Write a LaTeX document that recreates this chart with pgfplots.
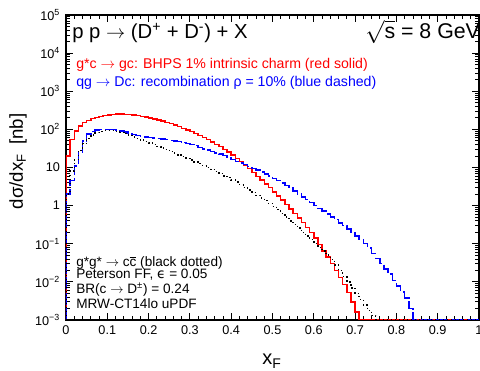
\documentclass[border=0pt]{standalone}
\usepackage{fontspec}
\setmainfont{Liberation Sans}
\newfontfamily\dejavu{DejaVu Sans}
\usepackage{pgfplots}
\usepackage{pgfplotstable}
\pgfplotsset{compat=1.18}

\pgfplotstableread{
x y
0 0.001
0 20
0.01 55
0.02 90
0.03 122
0.04 150
0.05 172
0.06 192
0.07 207
0.08 220
0.09 231
0.10 240
0.11 247
0.12 251
0.13 251
0.14 248
0.15 243
0.16 237
0.17 229
0.18 221
0.19 211
0.20 200
0.21 188
0.22 177
0.23 165
0.24 153
0.25 141
0.26 129
0.27 118
0.28 107
0.29 97
0.30 87
0.31 78
0.32 69
0.33 61
0.34 54
0.35 47
0.36 40.5
0.37 35
0.38 30
0.39 25.5
0.40 21.5
0.41 17.5
0.42 14.3
0.43 11.6
0.44 9.3
0.45 7.4
0.46 5.9
0.47 4.7
0.48 3.7
0.49 2.95
0.50 2.3
0.51 1.8
0.52 1.4
0.53 1.08
0.54 0.82
0.55 0.62
0.56 0.47
0.57 0.36
0.58 0.27
0.59 0.2
0.60 0.14
0.61 0.095
0.62 0.065
0.63 0.045
0.64 0.03
0.65 0.02
0.66 0.013
0.67 0.0085
0.68 0.0052
0.69 0.003
0.70 0.0016
0.71 0.001
1.00 0.001
}\redtab

\pgfplotstableread{
x y
0 0.001
0 2
0.01 4.5
0.02 11
0.03 25
0.04 50
0.05 75
0.06 88
0.07 95
0.08 98
0.09 100
0.10 100
0.11 98
0.12 95
0.13 91
0.14 85
0.15 79
0.16 74
0.17 69
0.18 65
0.19 63
0.20 61
0.21 59
0.22 57.5
0.23 55.6
0.24 53.7
0.25 51.9
0.26 50
0.27 47.9
0.28 45.7
0.29 43.2
0.30 40.7
0.31 37.2
0.32 33.9
0.33 30.9
0.34 28.5
0.35 26.3
0.36 24.3
0.37 22.4
0.38 20.4
0.39 18.2
0.40 16.2
0.41 14.6
0.42 13.2
0.43 11.9
0.44 10.7
0.45 9.5
0.46 8.5
0.47 7.6
0.48 6.8
0.49 6.0
0.50 5.1
0.51 4.5
0.52 3.9
0.53 3.4
0.54 2.9
0.55 2.4
0.56 2.0
0.57 1.7
0.58 1.45
0.59 1.2
0.60 1.02
0.61 0.85
0.62 0.72
0.63 0.6
0.64 0.51
0.65 0.43
0.66 0.35
0.67 0.3
0.68 0.245
0.69 0.2
0.70 0.16
0.71 0.13
0.72 0.1
0.73 0.078
0.74 0.056
0.75 0.041
0.76 0.03
0.77 0.022
0.78 0.016
0.79 0.011
0.80 0.0079
0.81 0.0055
0.82 0.0038
0.83 0.002
0.84 0.001
1.00 0.001
}\bluetab

\pgfplotstableread{
x y
0 0.001
0 2
0.01 8
0.02 16
0.03 28
0.04 42
0.05 58
0.06 72
0.07 82
0.08 89
0.09 92
0.10 93
0.11 93
0.12 89
0.13 83
0.14 77
0.15 71
0.16 63
0.17 57.5
0.18 52.5
0.19 47.9
0.20 43.7
0.21 39.8
0.22 35.5
0.23 32.4
0.24 29.5
0.25 26.3
0.26 24
0.27 21.4
0.28 19.5
0.29 17.4
0.30 15.8
0.31 14.1
0.32 12.6
0.33 11.2
0.34 10
0.35 8.9
0.36 7.8
0.37 6.9
0.38 6.0
0.39 5.4
0.40 4.7
0.41 4.2
0.42 3.55
0.43 3.0
0.44 2.6
0.45 2.2
0.46 1.86
0.47 1.58
0.48 1.35
0.49 1.15
0.50 0.95
0.51 0.78
0.52 0.62
0.53 0.5
0.54 0.4
0.55 0.32
0.56 0.26
0.57 0.2
0.58 0.16
0.59 0.13
0.60 0.102
0.61 0.081
0.62 0.065
0.63 0.05
0.64 0.039
0.65 0.028
0.66 0.02
0.67 0.014
0.68 0.01
0.69 0.007
0.70 0.005
0.71 0.0035
0.72 0.0025
0.73 0.0018
0.74 0.0013
0.75 0.001
1.00 0.001
}\blacktab

\begin{document}
\begin{tikzpicture}
\begin{axis}[
  at={(0,0)}, anchor=south west,
  scale only axis,
  width=309.75pt, height=228.75pt,
  xmin=0, xmax=1, ymin=1e-3, ymax=1e5,
  ymode=log,
  clip mode=individual,
  axis line style={line width=1pt},
  tick style={black, line width=0.6pt},
  major tick length=5.5pt, minor tick length=2.8pt,
  tick align=inside,
  xtick={0,0.1,0.2,0.3,0.4,0.5,0.6,0.7,0.8,0.9,1},
  xticklabels={0,0.1,0.2,0.3,0.4,0.5,0.6,0.7,0.8,0.9,1},
  minor x tick num=4,
  ytick={1e-3,1e-2,1e-1,1,10,100,1000,10000,100000},
  yticklabels={10\textsuperscript{−3},10\textsuperscript{−2},10\textsuperscript{−1},1,10,10\textsuperscript{2},10\textsuperscript{3},10\textsuperscript{4},10\textsuperscript{5}},
  /pgf/number format/assume math mode=true,
  ticklabel style={font=\fontsize{9.5pt}{11pt}\selectfont},
  xticklabel style={yshift=-1pt},
  yticklabel style={xshift=-1pt},
  xlabel={x\textsubscript{F}},
  xlabel style={font=\fontsize{15pt}{17pt}\selectfont, at={(axis description cs:0.499,-0.1475)}, anchor=base},
  ylabel={dσ/dx\textsubscript{F}\enspace[nb]},
  ylabel style={font=\fontsize{14pt}{17pt}\selectfont, at={(axis description cs:-0.116,0.52)}, anchor=center, rotate=0},
  const plot mark left,
]
\addplot[red, line width=1.1pt, const plot] table[x=x,y=y] {\redtab};
\addplot[blue, line width=1.1pt, const plot, dash pattern=on 9pt off 2.5pt] table[x=x,y=y] {\bluetab};
\addplot[black, line width=1.1pt, const plot, dash pattern=on 1pt off 2pt] table[x=x,y=y] {\blacktab};

\node[anchor=base west, inner sep=0pt, font=\fontsize{15.2pt}{17pt}\selectfont] at (axis description cs:0.0145,0.922) {p p $\rightarrow$ (D\textsuperscript{+} + D\textsuperscript{-}) + X};
\node[anchor=base east, inner sep=0pt, font=\fontsize{16pt}{18pt}\selectfont] at (axis description cs:1.003,0.922) {$\sqrt{\mbox{s}}$ = 8 GeV};
\node[anchor=base west, inner sep=0pt, text=red, font=\fontsize{10.6pt}{12pt}\selectfont] at (axis description cs:0.0242,0.826) {g*c $\rightarrow$ gc: BHPS 1\% intrinsic charm (red solid)};
\node[anchor=base west, inner sep=0pt, text=blue, font=\fontsize{10.6pt}{12pt}\selectfont] at (axis description cs:0.0242,0.764) {qg $\rightarrow$ Dc: recombination ρ = 10\% (blue dashed)};
\node[anchor=base west, inner sep=0pt, font=\fontsize{10.2pt}{12pt}\selectfont] at (axis description cs:0.0242,0.177) {g*g* $\rightarrow$ c$\overline{\mbox{c}}$ (black dotted)};
\node[anchor=base west, inner sep=0pt, font=\fontsize{10.2pt}{12pt}\selectfont] at (axis description cs:0.0242,0.137) {Peterson FF, {\dejavu ϵ} = 0.05};
\node[anchor=base west, inner sep=0pt, font=\fontsize{10.2pt}{12pt}\selectfont] at (axis description cs:0.0242,0.088) {BR(c $\rightarrow$ D\textsuperscript{±}) = 0.24};
\node[anchor=base west, inner sep=0pt, font=\fontsize{10.2pt}{12pt}\selectfont] at (axis description cs:0.0242,0.039) {MRW-CT14lo uPDF};
\end{axis}
\pgfresetboundingbox
\path (-49.5pt,-38.25pt) rectangle (310.5pt,240pt);
\end{tikzpicture}
\end{document}
